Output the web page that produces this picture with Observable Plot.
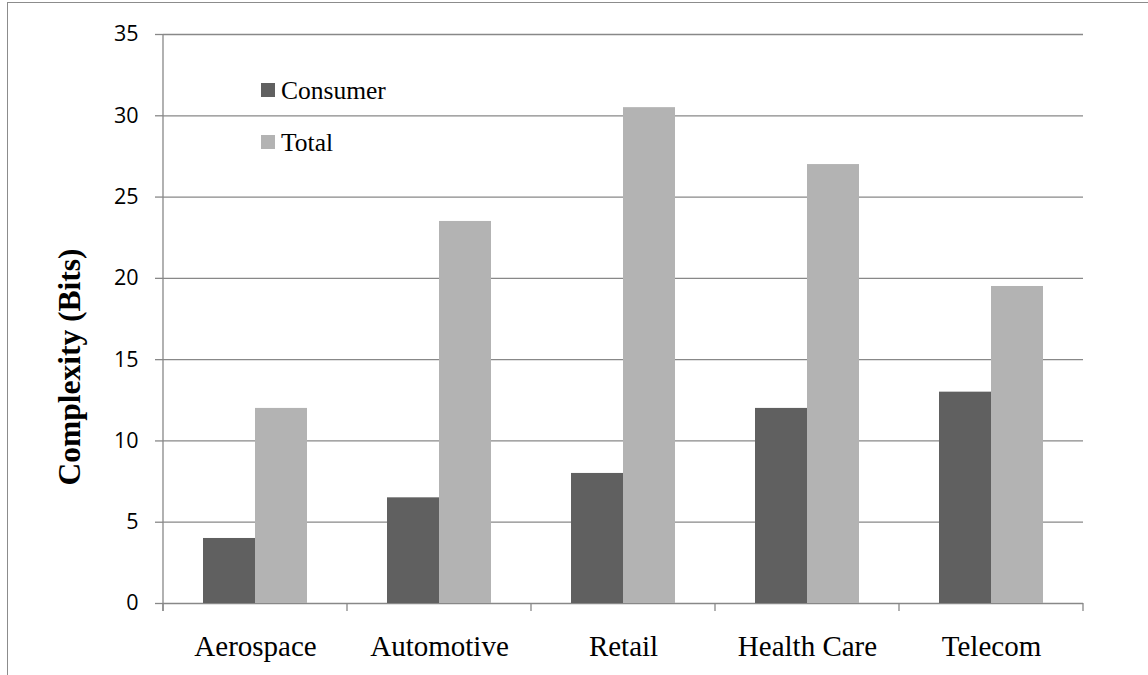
<!DOCTYPE html>
<html>
<head>
<meta charset="utf-8">
<script src="https://cdn.jsdelivr.net/npm/d3@7"></script>
<script src="https://cdn.jsdelivr.net/npm/@observablehq/plot@0.6"></script>
<style>
  body { margin: 0; background: #fff; }
  #chart { position: relative; width: 1148px; height: 675px; overflow: hidden; background: #fff; }
  #chart svg { position: absolute; left: 0; top: 0; }
  #border { position: absolute; left: 7px; top: 2px; width: 1200px; height: 720px;
            border: 1.5px solid #8c8c8c; box-sizing: border-box; }
</style>
</head>
<body>
<div id="chart"><div id="border"></div></div>
<script>
// Industries along the bottom, two series per industry
const categories = ["Aerospace", "Automotive", "Retail", "Health Care", "Telecom"];
const seriesNames = ["Consumer", "Total"];
const consumer = [4, 6.5, 8, 12, 13];
const total = [12, 23.5, 30.5, 27, 19.5];
const yTicks = [0, 5, 10, 15, 20, 25, 30, 35];
const seriesColors = ["#606060", "#b3b3b3"];
const yTitle = "Complexity (Bits)";

const rows = categories.flatMap((c, i) => [
  {category: c, series: seriesNames[0], value: consumer[i]},
  {category: c, series: seriesNames[1], value: total[i]}
]);

const gridColor = "#888888";

const plot = Plot.plot({
  width: 1148,
  height: 675,
  marginLeft: 162,
  marginRight: 64,
  marginTop: 34,
  marginBottom: 72,
  style: {background: "transparent", color: "#000", fontFamily: "Liberation Serif"},
  fx: {domain: categories, padding: 0, label: null},
  x: {domain: seriesNames, paddingInner: 0, paddingOuter: 0.76, axis: null},
  y: {domain: [0, 35], ticks: yTicks, label: null},
  color: {domain: seriesNames, range: seriesColors},
  marks: [
    Plot.gridY(yTicks, {stroke: gridColor, strokeOpacity: 1, strokeWidth: 1.3}),
    Plot.barY(rows, {fx: "category", x: "series", y: "value", fill: "series"}),
    Plot.axisY(yTicks, {
      anchor: "left", tickSize: 8, tickPadding: 17, stroke: gridColor, strokeWidth: 1.3,
      fill: "#000", fontSize: 21.5, fontFamily: "Open Sans", label: null
    }),
    Plot.axisFx({
      anchor: "bottom", tickSize: 0, tickPadding: 32, fill: "#000",
      fontSize: 29, fontFamily: "Liberation Serif", label: null
    })
  ]
});

document.getElementById("chart").appendChild(plot);

// Axis line, category boundary ticks, axis title and legend
const fx = plot.scale("fx");
const y = plot.scale("y");
const svg = d3.select(plot);
const y0 = y.apply(0);
const yTop = y.apply(d3.max(yTicks));
const bounds = categories.map(c => fx.apply(c));
bounds.push(fx.apply(categories[categories.length - 1]) + fx.bandwidth);

const deco = svg.append("g");
deco.append("line")
  .attr("x1", bounds[0]).attr("x2", bounds[0])
  .attr("y1", yTop).attr("y2", y0 + 8)
  .attr("stroke", gridColor).attr("stroke-width", 1.3);
deco.selectAll("line.bt").data(bounds).join("line")
  .attr("class", "bt")
  .attr("x1", d => d).attr("x2", d => d)
  .attr("y1", y0).attr("y2", y0 + 8)
  .attr("stroke", gridColor).attr("stroke-width", 1.3);

deco.append("text")
  .attr("transform", "translate(80,367) rotate(-90)")
  .attr("text-anchor", "middle")
  .attr("font-family", "Liberation Serif")
  .attr("font-weight", "bold")
  .attr("font-size", 31.5)
  .attr("fill", "#000")
  .text(yTitle);

const legend = deco.append("g").attr("transform", "translate(261,83)");
const item = legend.selectAll("g").data(seriesNames).join("g")
  .attr("transform", (d, i) => `translate(0,${i * 52})`);
item.append("rect")
  .attr("width", 14).attr("height", 14)
  .attr("fill", (d, i) => seriesColors[i]);
item.append("text")
  .attr("x", 20).attr("y", 16)
  .attr("text-anchor", "start")
  .attr("font-family", "Liberation Serif")
  .attr("font-size", 25.5)
  .attr("fill", "#000")
  .text(d => d);
</script>
</body>
</html>
